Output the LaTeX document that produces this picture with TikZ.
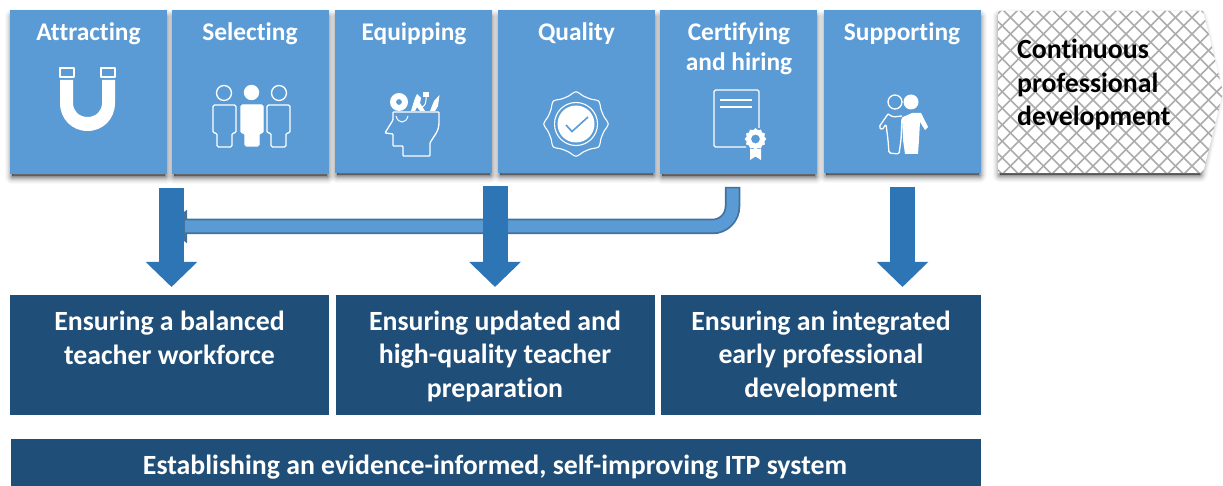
\documentclass[tikz,border=0pt]{standalone}
\usepackage{fontspec}
\setmainfont[Ligatures=CommonOff]{Carlito}
\usetikzlibrary{arrows.meta}
\definecolor{topblue}{HTML}{5B9BD5}
\definecolor{darkblue}{HTML}{1F4E79}
\definecolor{arrowblue}{HTML}{2E75B6}
\definecolor{edgeblue}{HTML}{41719C}
\newcommand{\softshadow}[4]{%
  \foreach \w/\o in {15/.025,13/.03,11/.04,9/.05,7/.07,5/.09,3/.11,1/.13}{
    \draw[black,fill=black,opacity=\o,line width=\w pt,line join=round] (#1+2,#2+7) rectangle (#3-2,#4-3.5);
  }}
\tikzset{
  topbox/.style={fill=topblue,inner sep=0pt,minimum width=157pt,minimum height=163pt,anchor=north west},
  toplabel/.style={text=white,font=\fontsize{25.4}{30}\selectfont\bfseries,align=center,anchor=base,inner sep=0pt},
  goalbox/.style={fill=darkblue,inner sep=0pt,anchor=north west},
  goaltext/.style={text=white,font=\fontsize{27.8}{33.5}\selectfont\bfseries,align=center,anchor=base,inner sep=0pt},
  downarrow/.style={draw=arrowblue,line width=25pt,-{Triangle[length=25pt,width=50pt]}},
  iconline/.style={draw=white,line width=1.3pt,line join=round,rounded corners=1.5pt},
}
\begin{document}
\begin{tikzpicture}[x=1pt,y=-1pt]
\useasboundingbox (0,0) rectangle (1223,486);
% shadows
\softshadow{10}{10}{167}{180}
\softshadow{172}{10}{329}{180}
\softshadow{335}{10}{492}{179}
\softshadow{498}{10}{655}{179}
\softshadow{660}{10}{817}{180}
\softshadow{824}{10}{981}{179}
\foreach \w/\o in {15/.025,13/.03,11/.04,9/.05,7/.07,5/.09,3/.11,1/.13}{
  \draw[black,fill=black,opacity=\o,line width=\w pt,line join=round] (1000,17) -- (1200,17) -- (1217,94) -- (1200,175) -- (1000,175) -- cycle;
}
% top boxes
\node[topbox,minimum height=164pt] (attract) at (10,10) {};
\node[topbox,minimum height=164pt] (select) at (172,10) {};
\node[topbox] (equip) at (335,10) {};
\node[topbox] (quality) at (498,10) {};
\node[topbox,minimum height=164pt] (certify) at (660,10) {};
\node[topbox] (support) at (824,10) {};
\node[toplabel] (attractT) at (88.5,41) {Attracting};
\node[toplabel] (selectT) at (250,41) {Selecting};
\node[toplabel] (equipT) at (414,41) {Equipping};
\node[toplabel] (qualityT) at (576.5,41) {Quality};
\node[toplabel] (certifyT) at (739,71) {Certifying\\and hiring};
\node[toplabel] (supportT) at (902,41) {Supporting};
% chevron
\fill[white] (998,11) -- (1203,11) -- (1223,92) -- (1203,173) -- (998,173) -- cycle;
\begin{scope}
\clip (998,11) -- (1203,11) -- (1223,92) -- (1203,173) -- (998,173) -- cycle;
\foreach \k in {0,...,28}{
  \draw[gray!65,line width=1.7pt] (990+\k*16.5,5) -- ++(-180,180);
  \draw[gray!65,line width=1.7pt] (800+\k*16.5,5) -- ++(180,180);
}
\end{scope}
\node[text=black,font=\fontsize{27.8}{33.5}\selectfont\bfseries,align=left,anchor=base west,inner sep=0pt] (cpd) at (1017,126) {Continuous\\professional\\development};
% goals
\node[goalbox,minimum width=319pt,minimum height=120pt] (goalA) at (10,295) {};
\node[goalbox,minimum width=319pt,minimum height=120pt] (goalB) at (336,295) {};
\node[goalbox,minimum width=320pt,minimum height=120pt] (goalC) at (661,295) {};
\node[goalbox,minimum width=970pt,minimum height=47pt] (goalD) at (11,439) {};
\node[goaltext] (goalAT) at (169.5,364) {Ensuring a balanced\\teacher workforce};
\node[goaltext] (goalBT) at (495,397) {Ensuring updated and\\high-quality teacher\\preparation};
\node[goaltext] (goalCT) at (821,397) {Ensuring an integrated\\early professional\\development};
\node[goaltext] (goalDT) at (495,474) {Establishing an evidence-informed, self-improving ITP system};
% connector coordinates
\coordinate (bendS) at (732.5,187);
\coordinate (bendC) at (732.5,226.5);
\coordinate (bendE) at (165,226.5);
\coordinate (arrAs) at (171.5,188);
\coordinate (arrAe) at (171.5,287);
\coordinate (arrBs) at (495,186);
\coordinate (arrBe) at (495,287);
\coordinate (arrCs) at (902.5,187);
\coordinate (arrCe) at (902.5,287);
% bent arrow
\draw[draw=edgeblue,line width=15.5pt,rounded corners=20pt,-{Triangle[length=22pt,width=32pt]}] (bendS) -- (bendC) -- (bendE);
\draw[draw=topblue,line width=12pt,rounded corners=20pt] ([yshift=-1.5pt]bendS) -- (bendC) -- ([xshift=20pt]bendE);
% down arrows
\draw[downarrow] (arrAs) -- (arrAe);
\draw[downarrow] (arrBs) -- (arrBe);
\draw[downarrow] (arrCs) -- (arrCe);
% magnet icon
\draw[iconline,rounded corners=0pt] (60,68) rectangle (74,77);
\draw[iconline,rounded corners=0pt] (101,68) rectangle (115,77);
\fill[white] (60,80) -- (60,103) .. controls (60,119) and (72,131) .. (87.5,131) .. controls (103,131) and (115,119) .. (115,103) -- (115,80) -- (102,80) -- (102,103) .. controls (102,111) and (96,117) .. (87.5,117) .. controls (79,117) and (73,111) .. (73,103) -- (73,80) -- cycle;
% people icon
\draw[iconline] (224,93) circle[radius=7.5pt];
\fill[white] (251.5,92.5) circle[radius=7.7pt];
\draw[iconline] (279,93) circle[radius=7.5pt];
\draw[iconline] (213,105) -- (236,105) -- (236,133) -- (232,133) -- (232,147) -- (217,147) -- (217,133) -- (213,133) -- cycle;
\draw[iconline,fill=white] (241,105) -- (263,105) -- (263,133) -- (259,133) -- (259,146) -- (245,146) -- (245,133) -- (241,133) -- cycle;
\draw[iconline] (267,105) -- (290,105) -- (290,133) -- (286,133) -- (286,147) -- (271,147) -- (271,133) -- (267,133) -- cycle;
% head icon
\draw[iconline,rounded corners=.8pt] (393,112) -- (439,112) -- (439,122) .. controls (439,132) and (433,137) .. (430,143) -- (430,156) -- (403,156) -- (403,146) -- (393,146) -- (393,134) -- (385,133) -- (393,120) -- cycle;
\draw[draw=white,line width=1pt] (396,116) .. controls (398,124) and (406,124) .. (408,116);
\fill[white,even odd rule] (399,102) circle[radius=9pt] (399,102) circle[radius=3pt];
\fill[white] (411,111) -- (415,98) -- (417,94) -- (421,98) -- (420,103) -- (425,111) -- (420,111) -- (417,107) -- (415,111) -- cycle;
\draw[draw=white,line width=1pt] (426,95) -- (426,100) .. controls (426,106) and (422,107) .. (421,108);
\fill[white] (423,92) rectangle (429,97);
\fill[white] (430,111) -- (434,101) -- (439.5,95) -- (438,106) -- (435,111) -- cycle;
% badge icon
\draw[draw=white,line width=1.1pt] plot[smooth cycle,domain=0:345,samples=24] ({576+(30+2.2*cos(8*\x))*sin(\x)},{124-(30+2.2*cos(8*\x))*cos(\x)});
\draw[draw=white,line width=1.1pt] (576,124) circle[radius=21.5pt];
\fill[white] (576,124) circle[radius=18.5pt];
\draw[draw=topblue,line width=1.6pt] (566,125) -- (572,131.5) -- (588,117);
% certificate icon
\draw[iconline] (759,128) -- (759,90) -- (714,90) -- (714,147) -- (746,147);
\draw[draw=white,line width=1.2pt] (720,100) -- (752,100);
\draw[draw=white,line width=1.2pt] (720,107) -- (752,107);
\fill[white,even odd rule] plot[smooth cycle,domain=0:345,samples=24] ({755.5+(10+.8*cos(12*\x))*sin(\x)},{139-(10+.8*cos(12*\x))*cos(\x)}) (755.5,139) circle[radius=4.5pt];
\fill[white] (750,149) -- (750,160) -- (755.5,156.5) -- (761,160) -- (761,149) -- cycle;
% supporting icon
\draw[iconline] (895,102) circle[radius=7pt];
\fill[white] (911,102) circle[radius=7.5pt];
\fill[white] (902,118) -- (912,113) -- (921,113) -- (928,127) -- (925,130) -- (920,122) -- (919,140) -- (918,154) -- (905,154) -- (903,140) -- cycle;
\draw[iconline] (888,114) -- (879,127) -- (882,130) -- (886,124) -- (888,140) -- (889,153) -- (899,154) -- (901,140) -- (902,118) -- (912,114);
\draw[iconline] (888,114) -- (893,117) -- (902,116);
\end{tikzpicture}
\end{document}
